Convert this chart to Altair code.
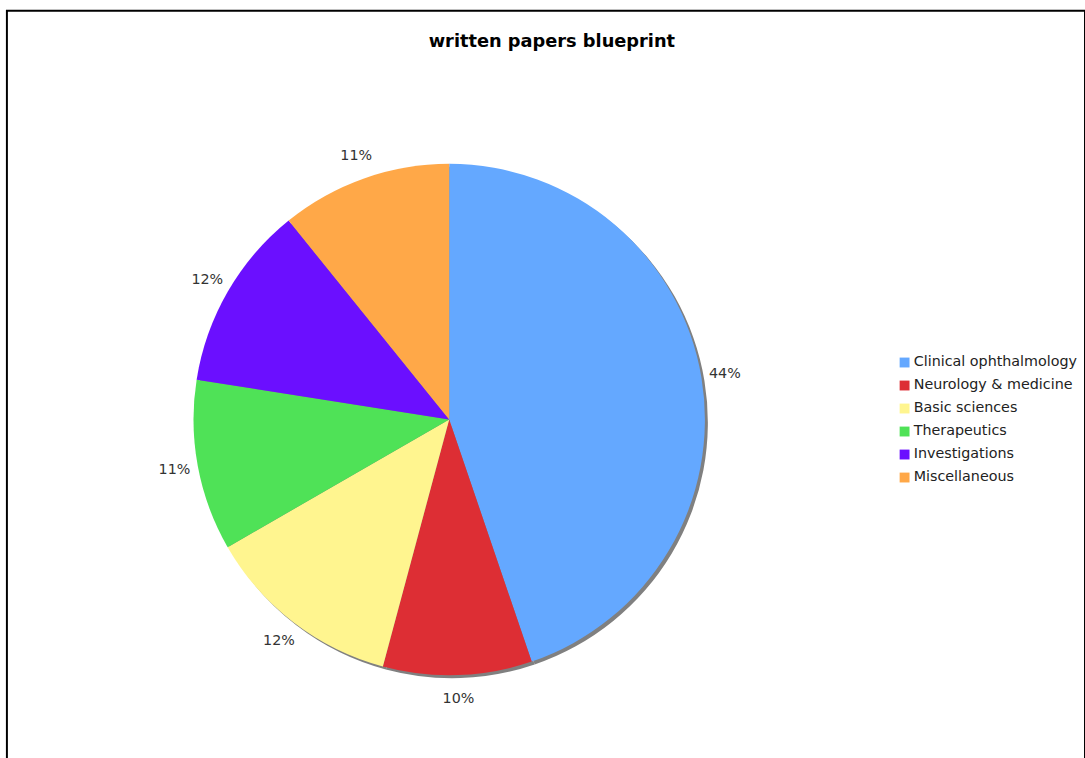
import altair as alt
import pandas as pd

categories = ["Clinical ophthalmology", "Neurology & medicine", "Basic sciences",
              "Therapeutics", "Investigations", "Miscellaneous"]
values = [44.75, 9.4, 12.5, 10.8, 11.7, 10.8]
labels = ["44%", "10%", "12%", "11%", "12%", "11%"]
colors = ["#64A8FF", "#DD2E34", "#FFF58F", "#4FE257", "#6B0FFF", "#FFA848"]

df = pd.DataFrame({"category": categories, "value": values, "label": labels,
                   "idx": list(range(len(categories)))})

CX, CY, R = 448, 414, 259

base = alt.Chart(df).encode(
    theta=alt.Theta("value:Q", stack=True),
    order=alt.Order("idx:Q"),
)

shadow = alt.Chart(df).mark_arc(radius=R, color="#808080").encode(
    theta=alt.Theta("value:Q", stack=True),
    order=alt.Order("idx:Q"),
    x=alt.value(CX + 3), y=alt.value(CY + 3),
)

pie = base.mark_arc(radius=R).encode(
    x=alt.value(CX), y=alt.value(CY),
    color=alt.Color("category:N", sort=categories,
                    scale=alt.Scale(domain=categories, range=colors),
                    legend=alt.Legend(title=None, orient="none", legendX=902, legendY=349,
                                      symbolType="square", symbolSize=100,
                                      symbolStrokeWidth=0,
                                      labelFont="DejaVu Sans", labelFontSize=14.5,
                                      labelColor="#222222", labelOffset=2,
                                      rowPadding=8.3, labelLimit=300)),
)

text = base.mark_text(radius=283, font="DejaVu Sans", fontSize=14.5, color="#333333",
                      align="center", baseline="middle").encode(
    x=alt.value(CX), y=alt.value(CY),
    text="label:N",
)

chart = alt.layer(shadow, pie, text).properties(
    width=1092, height=760,
    autosize=alt.AutoSizeParams(type="none"),
    padding={"left": 7, "top": 6, "right": 0, "bottom": 0},
    title=alt.TitleParams("written papers blueprint", font="DejaVu Sans", fontSize=18,
                          fontWeight="bold", color="#000000", anchor="middle",
                          offset=-41, dx=6),
    background="white",
).configure_view(stroke="#000000", strokeWidth=2)

chart.save("out.html", embed_options={"renderer": "svg", "actions": False})
